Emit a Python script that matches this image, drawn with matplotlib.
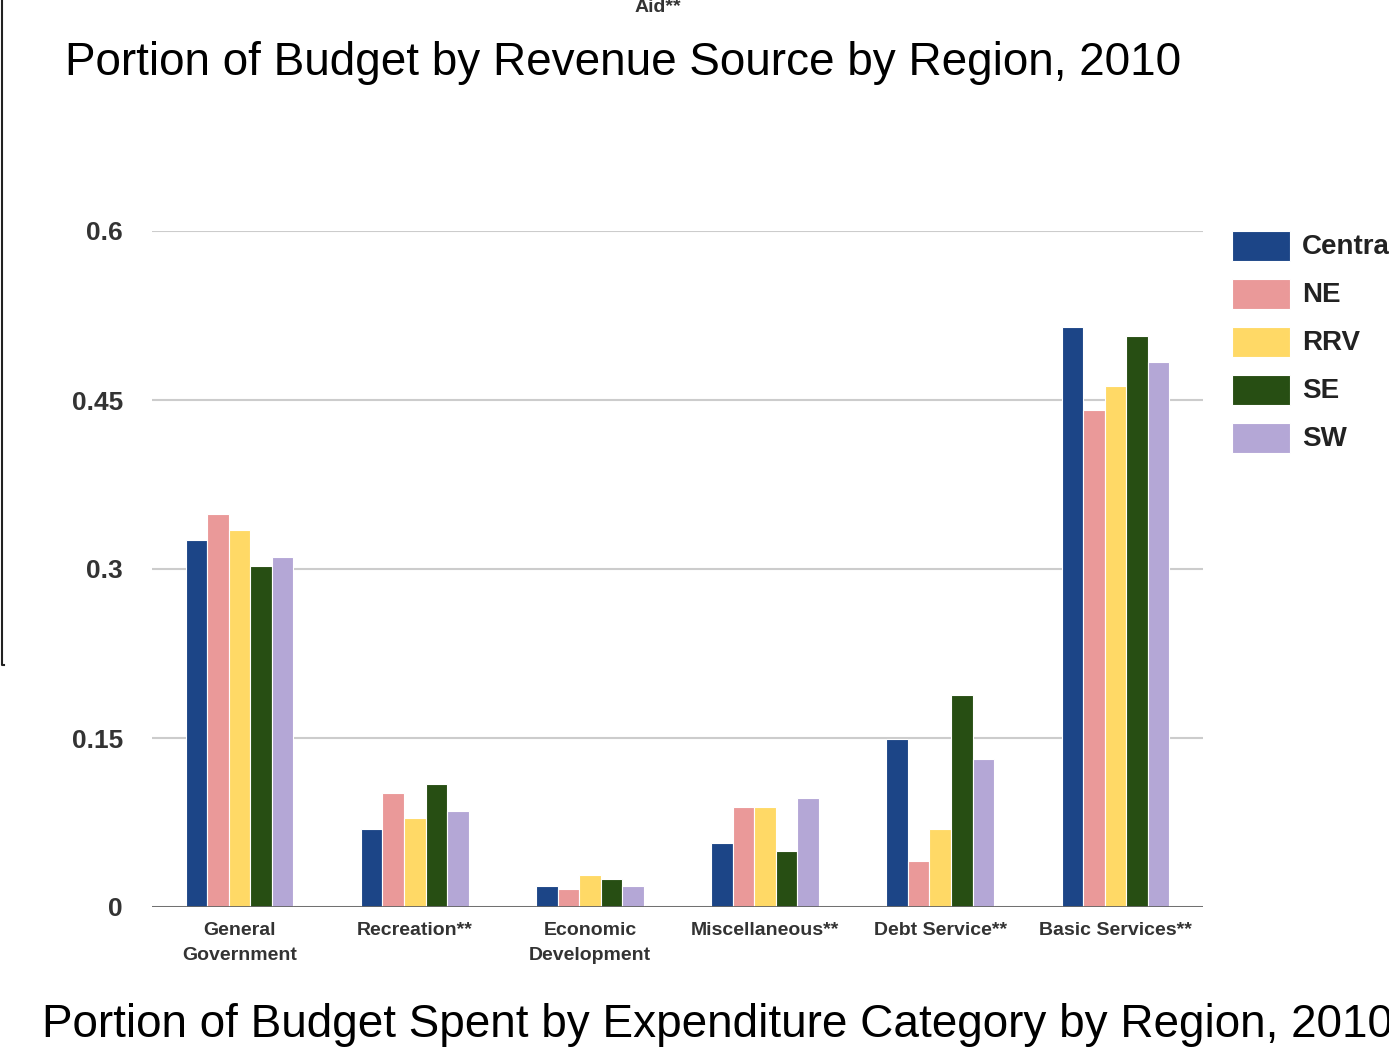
import matplotlib
matplotlib.use("Agg")
import numpy as np
import matplotlib.pyplot as plt
from matplotlib.lines import Line2D
from matplotlib.patches import Rectangle

# expenditure share per category, one list per region
categories = ["General\nGovernment", "Recreation**", "Economic\nDevelopment",
              "Miscellaneous**", "Debt Service**", "Basic Services**"]
regions = ["Central", "NE", "RRV", "SE", "SW"]
central = [0.326, 0.069, 0.019, 0.057, 0.149, 0.515]
ne = [0.349, 0.101, 0.016, 0.089, 0.041, 0.441]
rrv = [0.335, 0.079, 0.028, 0.089, 0.069, 0.462]
se = [0.303, 0.109, 0.025, 0.050, 0.188, 0.507]
sw = [0.311, 0.085, 0.019, 0.097, 0.131, 0.484]
yticks = [0, 0.15, 0.3, 0.45, 0.6]
ytick_labels = ["0", "0.15", "0.3", "0.45", "0.6"]

colors = ["#1c4587", "#ea9999", "#ffd966", "#274e13", "#b4a7d6"]
series = [central, ne, rrv, se, sw]

W, H = 1389, 1047
fig = plt.figure(figsize=(W / 100, H / 100), dpi=100)
ax = fig.add_axes([152 / W, (H - 907) / H, 1051 / W, 676 / H])

sans = ["Liberation Sans", "DejaVu Sans"]

x = np.arange(len(categories))
bw = 0.123
for i, (vals, col) in enumerate(zip(series, colors)):
    ax.bar(x + (i - 2) * bw, vals, bw, color=col, edgecolor="white",
           linewidth=0.8, zorder=3)

ax.set_xlim(-0.5, len(categories) - 0.5)
ax.set_ylim(0, 0.6)
ax.set_yticks(yticks)
ax.set_yticklabels(ytick_labels, fontsize=19, fontweight="bold",
                   color="#333333", family=sans)
ax.set_xticks(x)
ax.set_xticklabels(categories, fontsize=14, fontweight="bold",
                   color="#333333", family=sans, linespacing=1.6)
ax.tick_params(axis="both", length=0)
ax.tick_params(axis="x", pad=11)
ax.tick_params(axis="y", pad=21)
ax.grid(axis="y", color="#cccccc", linewidth=1.5, zorder=0)
ax.axhline(0, color="#666666", linewidth=2, zorder=4)
for s in ax.spines.values():
    s.set_visible(False)

# legend drawn in pixel coordinates
for i, (name, col) in enumerate(zip(regions, colors)):
    yc = 246 + 48 * i
    fig.add_artist(Rectangle((1232 / W, (H - yc - 15) / H), 58 / W, 30 / H,
                             transform=fig.transFigure, facecolor=col,
                             edgecolor="white", linewidth=0.8))
    fig.text(1302 / W, (H - yc - 1) / H, name, fontsize=20, fontweight="bold",
             color="#222222", family=sans, va="center", ha="left")

fig.text(65 / W, (H - 63) / H, "Portion of Budget by Revenue Source by Region, 2010",
         fontsize=33, family=sans, va="center", ha="left", color="black")
fig.text(42 / W, (H - 1025) / H,
         "Portion of Budget Spent by Expenditure Category by Region, 2010",
         fontsize=33, family=sans, va="center", ha="left", color="black")
fig.text(658 / W, (H - 7) / H, "Aid**", fontsize=14, fontweight="bold",
         family=sans, color="#333333", va="center", ha="center")

# frame edge of the neighbouring chart
fig.add_artist(Line2D([2 / W, 2 / W, 4 / W], [1, (H - 665) / H, (H - 665) / H],
                      transform=fig.transFigure, color="#222222", linewidth=1.5))

fig.savefig("out.png", dpi=100)
